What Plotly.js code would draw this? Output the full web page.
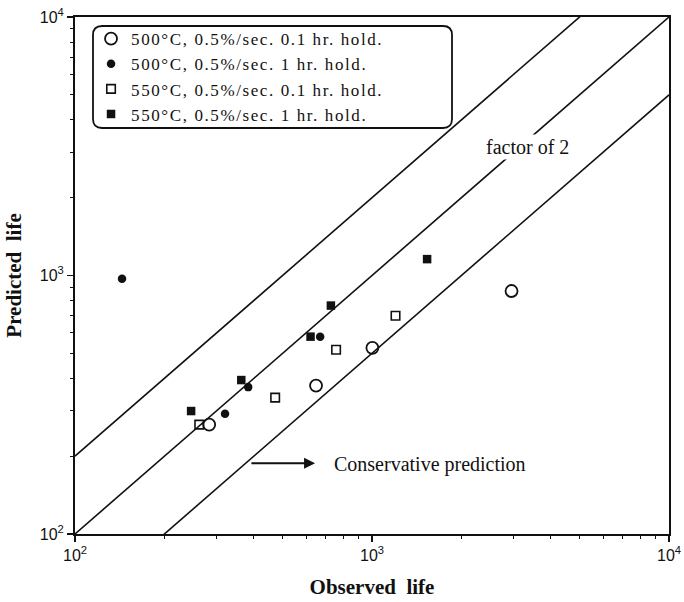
<!DOCTYPE html>
<html>
<head>
<meta charset="utf-8">
<script src="https://cdn.plot.ly/plotly-3.0.1.min.js"></script>
<style>
html,body{margin:0;padding:0;background:#fff;}
#chart{width:684px;height:602px;}
#chart .legend .legendtext{letter-spacing:1.6px;}
#chart .legend .scrollbox{clip-path:none !important;}
</style>
</head>
<body>
<div id="chart"></div>
<script>
// Series names
const seriesNames = [
  "500°C, 0.5%/sec. 0.1 hr. hold.",
  "500°C, 0.5%/sec. 1 hr. hold.",
  "550°C, 0.5%/sec. 0.1 hr. hold.",
  "550°C, 0.5%/sec. 1 hr. hold."
];
// Observed / predicted life values
const obs500short  = [283, 648, 1003, 2950];
const pred500short = [265, 375, 525, 871];
const obs500long   = [144, 320, 383, 669];
const pred500long  = [972, 292, 370, 580];
const obs550short  = [262, 472, 757, 1200];
const pred550short = [265, 337, 516, 699];
const obs550long   = [246, 363, 621, 727, 1533];
const pred550long  = [299, 394, 580, 765, 1157];

// Reference lines: predicted = factor * observed
const refObserved = [100, 10000];
const refFactors = [2, 1, 0.5];

// Axis ticks
const majorTicks = [100, 1000, 10000];
const majorTickText = ["10<sup>2</sup>", "10<sup>3</sup>", "10<sup>4</sup>"];
const minorTicks = [200,300,400,500,600,700,800,900,2000,3000,4000,5000,6000,7000,8000,9000];

// Annotation positions (data units)
const factorLabel = {x: 3327, y: 3142, text: "factor of 2"};
const consLabel = {x: 1567, y: 185, text: "Conservative prediction"};
const arrowFrom = [388, 188];
const arrowTo = [643, 188];

const serif = "Liberation Serif, Times New Roman, serif";
const sans = "Liberation Sans, Arial, sans-serif";

const traces = [];
refFactors.forEach(f => {
  traces.push({
    x: refObserved, y: refObserved.map(v => v * f),
    mode: "lines", type: "scatter", showlegend: false, hoverinfo: "skip",
    line: {color: "#111", width: 1.6}
  });
});
const markerStyles = [
  {symbol: "circle-open", size: 12, color: "#111", line: {width: 1.8, color: "#111"}},
  {symbol: "circle", size: 8.5, color: "#111"},
  {symbol: "square-open", size: 8.5, color: "#111", line: {width: 1.6, color: "#111"}},
  {symbol: "square", size: 8.5, color: "#111"}
];
const xs = [obs500short, obs500long, obs550short, obs550long];
const ys = [pred500short, pred500long, pred550short, pred550long];
for (let i = 0; i < 4; i++) {
  traces.push({
    x: xs[i], y: ys[i], name: seriesNames[i], mode: "markers", type: "scatter",
    marker: markerStyles[i], cliponaxis: false
  });
}

// Rounded legend frame (paper coords)
const plotW = 594, plotH = 517;
const bx0 = (93 - 75) / plotW, bx1 = (452 - 75) / plotW;
const by1 = (534 - 26) / plotH, by0 = (534 - 128) / plotH;
const rx = 9 / plotW, ry = 9 / plotH;
const framePath = `M ${bx0+rx},${by1} L ${bx1-rx},${by1} Q ${bx1},${by1} ${bx1},${by1-ry} L ${bx1},${by0+ry} Q ${bx1},${by0} ${bx1-rx},${by0} L ${bx0+rx},${by0} Q ${bx0},${by0} ${bx0},${by0+ry} L ${bx0},${by1-ry} Q ${bx0},${by1} ${bx0+rx},${by1} Z`;

const axisCommon = {
  type: "log", range: [2, 4],
  tickmode: "array", tickvals: majorTicks, ticktext: majorTickText,
  ticks: "outside", ticklen: 6, tickwidth: 1.5, tickcolor: "#111",
  showline: true, linewidth: 2, linecolor: "#111", mirror: true,
  showgrid: false, zeroline: false,
  tickfont: {family: sans, size: 16, color: "#111"},
  minor: {tickmode: "array", tickvals: minorTicks, ticks: "outside", ticklen: 3, tickwidth: 1, tickcolor: "#111", showgrid: false}
};

const layout = {
  width: 684, height: 602,
  margin: {l: 75, r: 15, t: 17, b: 68},
  paper_bgcolor: "#fff", plot_bgcolor: "#fff",
  xaxis: Object.assign({}, axisCommon, {
    title: {text: "<b>Observed  life</b>", font: {family: serif, size: 21, color: "#111"}, standoff: 16}
  }),
  yaxis: Object.assign({}, axisCommon, {
    title: {text: "<b>Predicted  life</b>", font: {family: serif, size: 21, color: "#111"}, standoff: 12}
  }),
  showlegend: true,
  legend: {
    x: 0.027, y: 0.992, xanchor: "left", yanchor: "top",
    bgcolor: "rgba(0,0,0,0)", borderwidth: 0,
    font: {family: serif, size: 17, color: "#111"},
    tracegroupgap: 0
  },
  shapes: [{type: "path", xref: "paper", yref: "paper", path: framePath, line: {color: "#111", width: 1.8}, fillcolor: "rgba(0,0,0,0)"}],
  annotations: [
    {x: Math.log10(factorLabel.x), y: Math.log10(factorLabel.y), text: factorLabel.text, showarrow: false,
     font: {family: serif, size: 20, color: "#111"}, bgcolor: "#fff", borderpad: 1},
    {x: Math.log10(consLabel.x), y: Math.log10(consLabel.y), text: consLabel.text, showarrow: false,
     font: {family: serif, size: 20, color: "#111"}},
    {x: Math.log10(arrowTo[0]), y: Math.log10(arrowTo[1]), ax: Math.log10(arrowFrom[0]), ay: Math.log10(arrowFrom[1]),
     axref: "x", ayref: "y", text: "", showarrow: true, arrowhead: 2, arrowsize: 1.1, arrowwidth: 2, arrowcolor: "#111"}
  ]
};

Plotly.newPlot("chart", traces, layout, {staticPlot: true, displayModeBar: false});
</script>
</body>
</html>
